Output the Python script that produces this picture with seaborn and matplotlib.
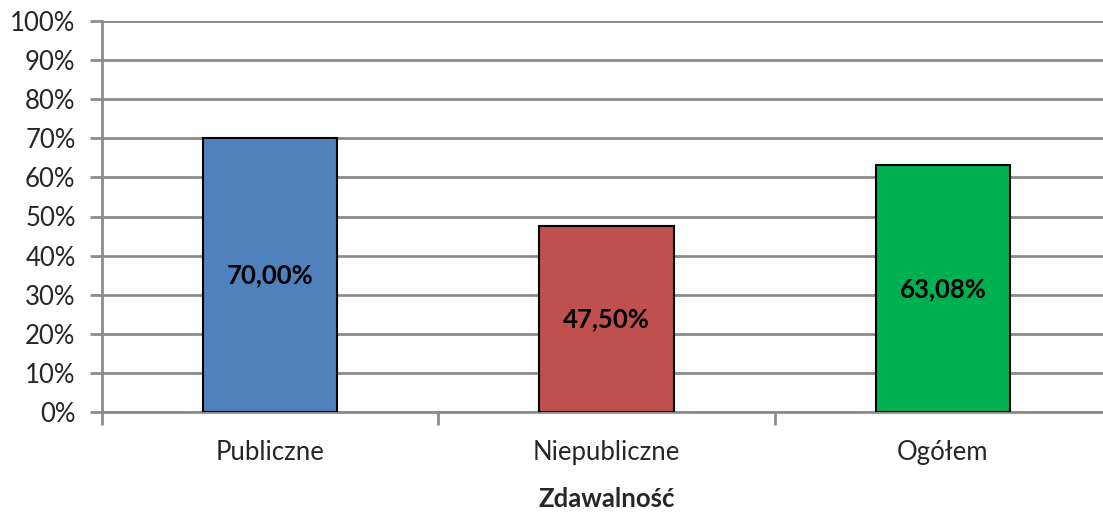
import matplotlib
matplotlib.use("Agg")
import matplotlib.pyplot as plt
import seaborn as sns
import pandas as pd
from matplotlib.ticker import MultipleLocator, FuncFormatter

categories = ["Publiczne", "Niepubliczne", "Ogółem"]
values = [70.00, 47.50, 63.08]
colors = ["#4F81BD", "#C0504D", "#00B050"]
xlabel = "Zdawalność"

sns.set_style("white")
plt.rcParams['font.family'] = ['Lato', 'DejaVu Sans']

df = pd.DataFrame({"cat": categories, "val": values})

fig = plt.figure(figsize=(11.03, 5.12), dpi=100)
W, H = 1103, 512
left, right, top, bottom = 102, 1111, 21, 412
ax = fig.add_axes([left / W, 1 - bottom / H, (right - left) / W, (bottom - top) / H])

sns.barplot(data=df, x="cat", y="val", hue="cat", palette=colors, legend=False,
            saturation=1, width=0.4, edgecolor="black", linewidth=1.5, ax=ax, zorder=3)

ax.set_ylim(0, 100)
ax.set_xlim(-0.5, 2.5)
ax.yaxis.set_major_locator(MultipleLocator(10))
ax.yaxis.set_major_formatter(FuncFormatter(lambda v, p: f"{int(v)}%"))
ax.grid(axis="y", color="#8C8C8C", linewidth=2, zorder=0)
for s in ["top", "right"]:
    ax.spines[s].set_visible(False)
ax.spines["left"].set_color("#8C8C8C")
ax.spines["left"].set_linewidth(2)
ax.spines["bottom"].set_color("#8C8C8C")
ax.spines["bottom"].set_linewidth(2)
ax.spines["left"].set_zorder(4)

ax.tick_params(axis="y", which="major", length=9, width=2, color="#8C8C8C",
               labelsize=18.5, pad=10, left=True)
ax.set_xticks([0, 1, 2])
ax.set_xticklabels(categories)
ax.set_xticks([-0.5, 0.5, 1.5, 2.5], minor=True)
ax.tick_params(axis="x", which="major", length=0, labelsize=18.5, pad=20)
ax.tick_params(axis="x", which="minor", length=9, width=2, color="#8C8C8C", bottom=True)
ax.set_xlabel(xlabel, fontsize=18.5, fontweight="bold", labelpad=16)
ax.set_ylabel("")

for i, v in enumerate(values):
    ax.text(i, v / 2, f"{v:.2f}%".replace(".", ","), ha="center", va="center",
            fontsize=18.5, fontweight="bold", color="black", zorder=5)

fig.savefig("out.png", dpi=100)
